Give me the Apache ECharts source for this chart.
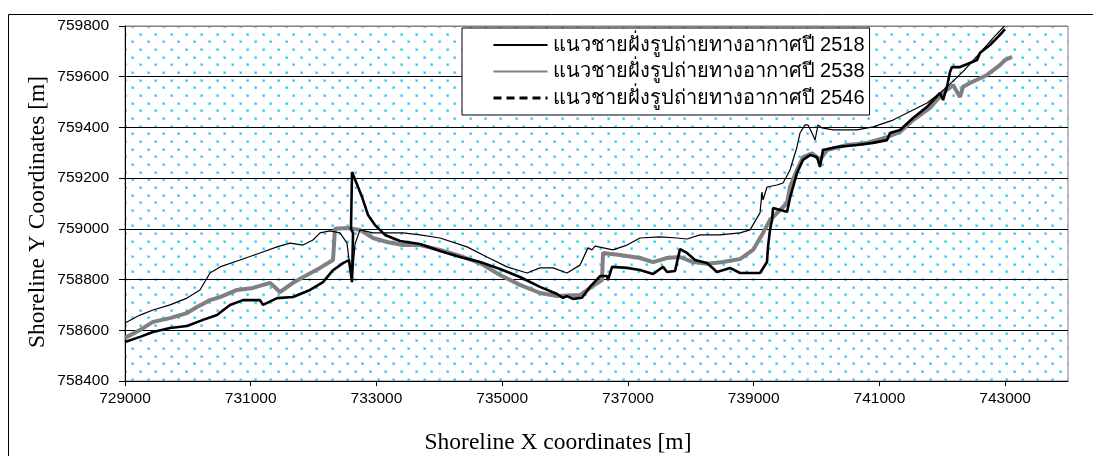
<!DOCTYPE html>
<html>
<head>
<meta charset="utf-8">
<script src="https://cdn.jsdelivr.net/npm/echarts@6/dist/echarts.min.js"></script>
<style>
html,body{margin:0;padding:0;background:#fff;}
#chart{width:1093px;height:456px;}
</style>
</head>
<body>
<div id="chart"></div>
<script>
// ---- data ----
const seriesNames = [
  'แนวชายฝั่งรูปถ่ายทางอากาศปี 2518',
  'แนวชายฝั่งรูปถ่ายทางอากาศปี 2538',
  'แนวชายฝั่งรูปถ่ายทางอากาศปี 2546'
];
const xTitle = 'Shoreline X coordinates [m]';
const yTitle = 'Shoreline Y Coordinates [m]';
const xTicks = [729000, 731000, 733000, 735000, 737000, 739000, 741000, 743000];
const yTicks = [758400, 758600, 758800, 759000, 759200, 759400, 759600, 759800];

const line2518 = [
  [729000,758629],[729239,758660],[729445,758680],[729716,758700],[729986,758727],[730193,758759],
  [730352,758826],[730511,758850],[730829,758877],[731147,758905],[731418,758929],[731625,758944],
  [731831,758936],[731990,758956],[732102,758984],[732261,758992],[732420,758984],[732531,758944],
  [732579,758850],[732611,758798],[732659,758940],[732738,758996],[732945,758984],[733422,758984],
  [733693,758976],[734011,758964],[734440,758929],[734758,758889],[735077,758850],[735395,758826],
  [735601,758846],[735808,758846],[736031,758826],[736238,758857],[736365,758925],[736428,758917],
  [736476,758932],[736763,758917],[736985,758936],[737192,758964],[737510,758968],[737781,758964],
  [737940,758960],[738147,758976],[738465,758976],[738783,758984],[738942,758996],[739101,759063],
  [739133,759145],[739149,759114],[739212,759165],[739371,759173],[739467,759181],[739578,759232],
  [739689,759323],[739737,759378],[739817,759410],[739864,759410],[739928,759378],[739976,759350],
  [740024,759410],[740087,759398],[740262,759390],[740644,759390],[740899,759402],[741217,759429],
  [741535,759469],[741758,759496],[741964,759536],[742075,759560],[742330,759620],[742600,759694],
  [742800,759750],[742990,759800]
];

const line2538 = [
  [729000,758570],[729239,758601],[729445,758633],[729716,758648],[729986,758668],[730145,758692],
  [730352,758719],[730511,758731],[730782,758759],[731036,758767],[731307,758787],[731466,758751],
  [731672,758787],[731895,758818],[732102,758846],[732309,758877],[732340,759000],[732531,759003],
  [732738,758996],[732945,758964],[733168,758948],[733422,758936],[733693,758936],[734011,758917],
  [734329,758893],[734647,758865],[734965,758818],[735283,758779],[735601,758747],[735872,758735],
  [736238,758739],[736397,758767],[736588,758798],[736604,758905],[736874,758897],[737192,758885],
  [737399,758869],[737622,758885],[737828,758889],[738035,758869],[738258,758862],[738512,758869],
  [738783,758881],[738990,758917],[739149,758984],[739260,759035],[739419,759074],[739531,759102],
  [739578,759165],[739689,759232],[739785,759283],[739928,759298],[740055,759272],[740167,759311],
  [740485,759331],[740803,759339],[741122,759362],[741328,759382],[741535,759429],[741805,759477],
  [742012,759536],[742171,759567],[742282,759520],[742330,759560],[742441,759575],[742712,759607],
  [742918,759646],[742998,759666],[743110,759678]
];

const line2546 = [
  [729000,758554],[729239,758574],[729445,758593],[729716,758609],[729986,758617],[730241,758641],
  [730463,758660],[730670,758700],[730877,758719],[731147,758719],[731195,758700],[731418,758727],
  [731672,758731],[731943,758759],[732150,758790],[732309,758837],[732468,758865],[732563,758877],
  [732611,758790],[732627,758984],[732595,759000],[732611,759224],[732675,759185],[732770,759126],
  [732865,759055],[732977,759015],[733136,758976],[733374,758952],[733693,758940],[734011,758913],
  [734329,758889],[734647,758869],[734965,758842],[735283,758810],[735601,758771],[735872,758743],
  [735967,758728],[736031,758735],[736126,758724],[736269,758728],[736397,758771],[736556,758814],
  [736667,758814],[736683,758798],[736747,758850],[736985,758846],[737192,758838],[737399,758822],
  [737558,758850],[737622,758830],[737749,758834],[737828,758920],[737940,758905],[738067,758877],
  [738258,758865],[738417,758830],[738624,758846],[738783,758826],[739101,758826],[739212,758869],
  [739228,758929],[739260,758996],[739292,759035],[739308,759082],[739531,759067],[739578,759122],
  [739689,759220],[739785,759272],[739896,759291],[740008,759283],[740055,759244],[740103,759311],
  [740326,759323],[740644,759331],[740899,759339],[741122,759350],[741169,759378],[741328,759390],
  [741535,759437],[741758,759481],[741964,759536],[742012,759508],[742075,759560],[742123,759619],
  [742155,759638],[742282,759638],[742441,759654],[742553,759666],[742600,759694],[742759,759725],
  [742918,759765],[742998,759788]
];

// ---- dotted background pattern ----
function makePattern() {
  const c = document.createElement('canvas');
  c.width = 46; c.height = 46;
  const ctx = c.getContext('2d');
  ctx.fillStyle = '#fff';
  ctx.fillRect(0, 0, 46, 46);
  for (let r = 0; r < 6; r++) {
    const y = Math.round(r * 46 / 6) + 3;
    for (let k = 0; k < 3; k++) {
      const x = Math.round(k * 46 / 3 + (r % 2 ? 46 / 6 : 0)) + 2;
      ctx.fillStyle = 'rgba(80,210,255,0.55)';
      ctx.fillRect(x - 1, y - 1, 3, 3);
      ctx.fillStyle = '#22c4f4';
      ctx.fillRect(x, y, 1.6, 1.6);
    }
  }
  return c;
}

const chart = echarts.init(document.getElementById('chart'), null, {renderer: 'canvas'});
const tickFont = {color: '#000', fontFamily: 'Liberation Sans, Arial, sans-serif', fontSize: 15.5};
const titleFont = 'Liberation Serif, Times New Roman, serif';
const hideSymbol = {opacity: 0, color: 'rgba(0,0,0,0)', borderWidth: 0};

chart.setOption({
  animation: false,
  backgroundColor: '#fff',
  graphic: [
    {type: 'rect', left: 6, top: 12, z: -10,
     shape: {x: 0, y: 0, width: 1086, height: 450},
     style: {fill: 'none', stroke: '#000', lineWidth: 1}},
    {type: 'text', x: 558, y: 443, z: 10,
     style: {text: xTitle, font: '23.5px ' + titleFont, fill: '#000', align: 'center', verticalAlign: 'middle'}},
    {type: 'text', x: 38, y: 212, rotation: Math.PI / 2, z: 10,
     style: {text: yTitle, font: '23.5px ' + titleFont, fill: '#000', align: 'center', verticalAlign: 'middle'}}
  ],
  grid: {
    left: 125, top: 26, width: 943, height: 355,
    show: true,
    backgroundColor: {image: makePattern(), repeat: 'repeat'},
    borderColor: '#808080', borderWidth: 1
  },
  legend: {
    orient: 'vertical',
    left: 462, top: 28,
    itemWidth: 54, itemHeight: 14, itemGap: 6.5,
    padding: [7, 5, 7, 30],
    backgroundColor: '#fff',
    borderColor: '#000', borderWidth: 1,
    textStyle: {color: '#000', fontSize: 20, fontFamily: 'Liberation Sans, Arial, sans-serif'},
    data: [
      {name: seriesNames[0], itemStyle: hideSymbol},
      {name: seriesNames[1], itemStyle: hideSymbol},
      {name: seriesNames[2], itemStyle: hideSymbol, lineStyle: {type: [8, 5], width: 3}}
    ]
  },
  xAxis: {
    type: 'value', min: 729000, max: 744000,
    axisLine: {show: true, lineStyle: {color: '#000', width: 1}},
    axisTick: {show: true, length: 5, lineStyle: {color: '#000'}, customValues: xTicks},
    axisLabel: Object.assign({margin: 10, customValues: xTicks, formatter: v => String(v)}, tickFont),
    splitLine: {show: false}
  },
  yAxis: {
    type: 'value', min: 758400, max: 759800, interval: 200,
    axisLine: {show: true, lineStyle: {color: '#000', width: 1}},
    axisTick: {show: true, length: 6, lineStyle: {color: '#000'}},
    axisLabel: Object.assign({margin: 16, formatter: v => yTicks.includes(v) ? String(v) : ''}, tickFont),
    splitLine: {show: true, lineStyle: {color: ['#000','#000','#000','#000','#000','#000','#000','#808080'], width: 1}}
  },
  series: [
    {name: seriesNames[0], type: 'line', data: line2518, symbol: 'none', z: 4,
     lineStyle: {color: '#000', width: 1.2}, itemStyle: {color: '#000'}},
    {name: seriesNames[1], type: 'line', data: line2538, symbol: 'none', z: 2,
     lineStyle: {color: '#808080', width: 4}, itemStyle: {color: '#808080'}},
    {name: seriesNames[2], type: 'line', data: line2546, symbol: 'none', z: 3,
     lineStyle: {color: '#000', width: 2.6}, itemStyle: {color: '#000'}}
  ]
});
</script>
</body>
</html>
